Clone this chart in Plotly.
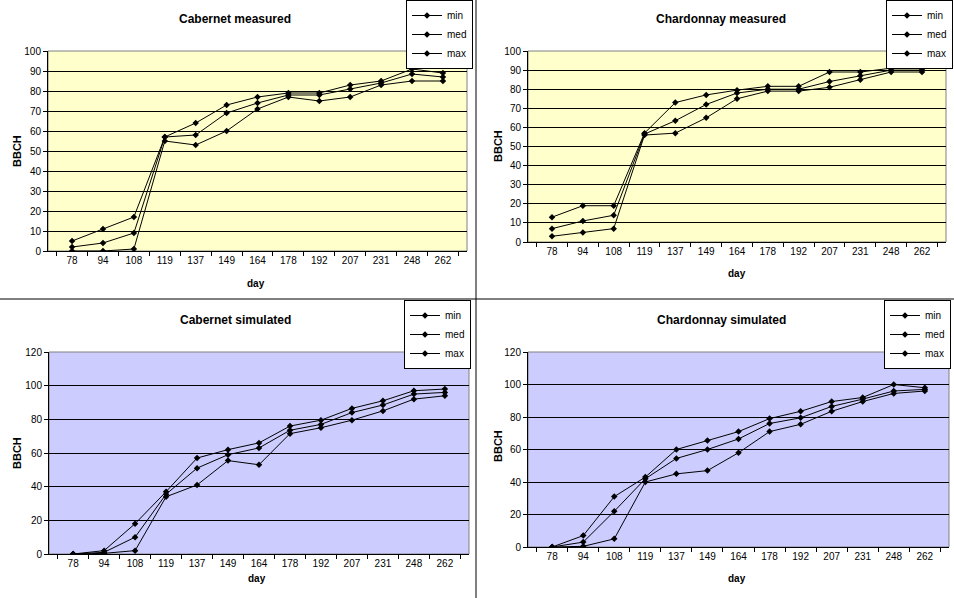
import plotly.graph_objects as go

days = ["78", "94", "108", "119", "137", "149", "164", "178", "192", "207", "231", "248", "262"]
series_names = ["min", "med", "max"]

cab_meas_min = [0, 0, 1, 55, 53, 60, 71, 77, 75, 77, 83, 85, 85]
cab_meas_med = [2, 4, 9, 57, 58, 69, 74, 78, 78, 81, 84, 88.5, 87]
cab_meas_max = [5, 11, 17, 57, 64, 73, 77, 79, 79, 83, 85, 91, 89]

char_meas_min = [3, 5, 7, 56, 57, 65, 75, 79, 79, 81, 85, 89, 89]
char_meas_med = [7, 11, 14, 56.5, 63.5, 72, 78, 80, 80, 84, 87, 90, 90]
char_meas_max = [13, 19, 19, 57, 73, 77, 79.5, 81.5, 81.5, 89, 89, 91, 91]

cab_sim_min = [0, 0.4, 2, 34, 41, 55.5, 53, 71.5, 75, 79.5, 85, 92, 94]
cab_sim_med = [0, 1, 10, 35.5, 51, 59, 63, 73.5, 77, 84, 88.5, 95, 96]
cab_sim_max = [0, 2, 18, 37, 57, 62, 66, 76, 79.5, 86.5, 91, 97, 98]

char_sim_min = [0, 0.4, 5, 40, 45, 47, 58, 71, 75.5, 83.5, 89.5, 94.5, 96]
char_sim_med = [0, 3, 22, 42, 54.5, 60, 66.5, 76, 79.5, 86.5, 91, 96, 97]
char_sim_max = [0, 7, 31, 43, 60, 65.5, 71, 79, 83.5, 89.5, 92, 100, 98]

W, H = 954, 598


def px(x):
    return x / W


def py(y):
    return 1 - y / H


panels = [
    dict(title="Cabernet measured", data=(cab_meas_min, cab_meas_med, cab_meas_max),
         box=(48, 467, 51, 251), ymax=100, dtick=10, bg="#FFFFCC",
         legend=(473, 0), tpos=(235, 19), bbch=(17, 151), day=(256, 283)),
    dict(title="Chardonnay measured", data=(char_meas_min, char_meas_med, char_meas_max),
         box=(528, 946, 51, 242), ymax=100, dtick=10, bg="#FFFFCC",
         legend=(953, 0), tpos=(721, 19), bbch=(498, 146), day=(737, 273)),
    dict(title="Cabernet simulated", data=(cab_sim_min, cab_sim_med, cab_sim_max),
         box=(49, 469, 352, 554), ymax=120, dtick=20, bg="#CCCCFF",
         legend=(471, 300), tpos=(235, 320), bbch=(17, 453), day=(257, 578)),
    dict(title="Chardonnay simulated", data=(char_sim_min, char_sim_med, char_sim_max),
         box=(528, 949, 352, 547), ymax=120, dtick=20, bg="#CCCCFF",
         legend=(951, 300), tpos=(721, 320), bbch=(498, 446), day=(737, 578)),
]

FONT = "Arial, Liberation Sans, sans-serif"
fig = go.Figure()
layout = dict(
    width=W, height=H, margin=dict(l=0, r=0, t=0, b=0, autoexpand=False),
    paper_bgcolor="white", plot_bgcolor="rgba(0,0,0,0)",
    font=dict(family=FONT, size=10, color="black"),
    shapes=[], annotations=[],
)

for i, p in enumerate(panels):
    n = "" if i == 0 else str(i + 1)
    xa, ya = "x" + n, "y" + n
    lg = "legend" + n
    x0, x1, y0, y1 = p["box"]
    for name, vals in zip(series_names, p["data"]):
        fig.add_trace(go.Scatter(
            x=days, y=vals, name=name, mode="lines+markers",
            line=dict(color="black", width=1),
            marker=dict(symbol="diamond", size=5, color="black"),
            xaxis=xa, yaxis=ya, legend=lg, showlegend=True,
        ))
    layout["xaxis" + n] = dict(
        domain=[px(x0), px(x1)], anchor=ya, type="category",
        showline=True, linecolor="black", linewidth=1,
        ticks="outside", tickson="boundaries", ticklen=4, tickcolor="black",
        showgrid=False, tickfont=dict(size=10, family=FONT), fixedrange=True,
        automargin=False,
    )
    layout["yaxis" + n] = dict(
        domain=[py(y1), py(y0)], anchor=xa, range=[0, p["ymax"]], dtick=p["dtick"],
        showline=True, linecolor="black", linewidth=1, zeroline=False,
        ticks="outside", ticklen=4, tickcolor="black",
        showgrid=True, gridcolor="black", gridwidth=1,
        tickfont=dict(size=10, family=FONT), fixedrange=True, automargin=False,
    )
    layout[lg] = dict(
        x=px(p["legend"][0]), y=py(p["legend"][1]), xanchor="right", yanchor="top",
        bgcolor="white", bordercolor="black", borderwidth=1,
        font=dict(size=10, family=FONT), itemwidth=30, tracegroupgap=0,
    )
    # plot area background and border
    layout["shapes"].append(dict(
        type="rect", xref=xa + " domain", yref=ya + " domain", x0=0, x1=1, y0=0, y1=1,
        fillcolor=p["bg"], line=dict(color="#808080", width=1), layer="below",
    ))
    layout["annotations"].append(dict(
        text="<b>" + p["title"] + "</b>", x=px(p["tpos"][0]), y=py(p["tpos"][1]),
        xref="paper", yref="paper", showarrow=False, xanchor="center", yanchor="middle",
        font=dict(size=12, family=FONT, color="black"),
    ))
    layout["annotations"].append(dict(
        text="<b>BBCH</b>", x=px(p["bbch"][0]), y=py(p["bbch"][1]),
        xref="paper", yref="paper", showarrow=False, textangle=-90,
        xanchor="center", yanchor="middle", font=dict(size=11, family=FONT, color="black"),
    ))
    layout["annotations"].append(dict(
        text="<b>day</b>", x=px(p["day"][0]), y=py(p["day"][1]),
        xref="paper", yref="paper", showarrow=False,
        xanchor="center", yanchor="middle", font=dict(size=10, family=FONT, color="black"),
    ))

# panel dividers
layout["shapes"].append(dict(type="line", xref="paper", yref="paper",
                             x0=px(476), x1=px(476), y0=0, y1=1,
                             line=dict(color="black", width=1)))
layout["shapes"].append(dict(type="line", xref="paper", yref="paper",
                             x0=0, x1=1, y0=py(299), y1=py(299),
                             line=dict(color="black", width=1)))

fig.update_layout(**layout)
fig.write_html(
    "out.html",
    config={"displayModeBar": False},
    post_script="document.body.style.margin='0';document.body.style.overflow='hidden';",
)
